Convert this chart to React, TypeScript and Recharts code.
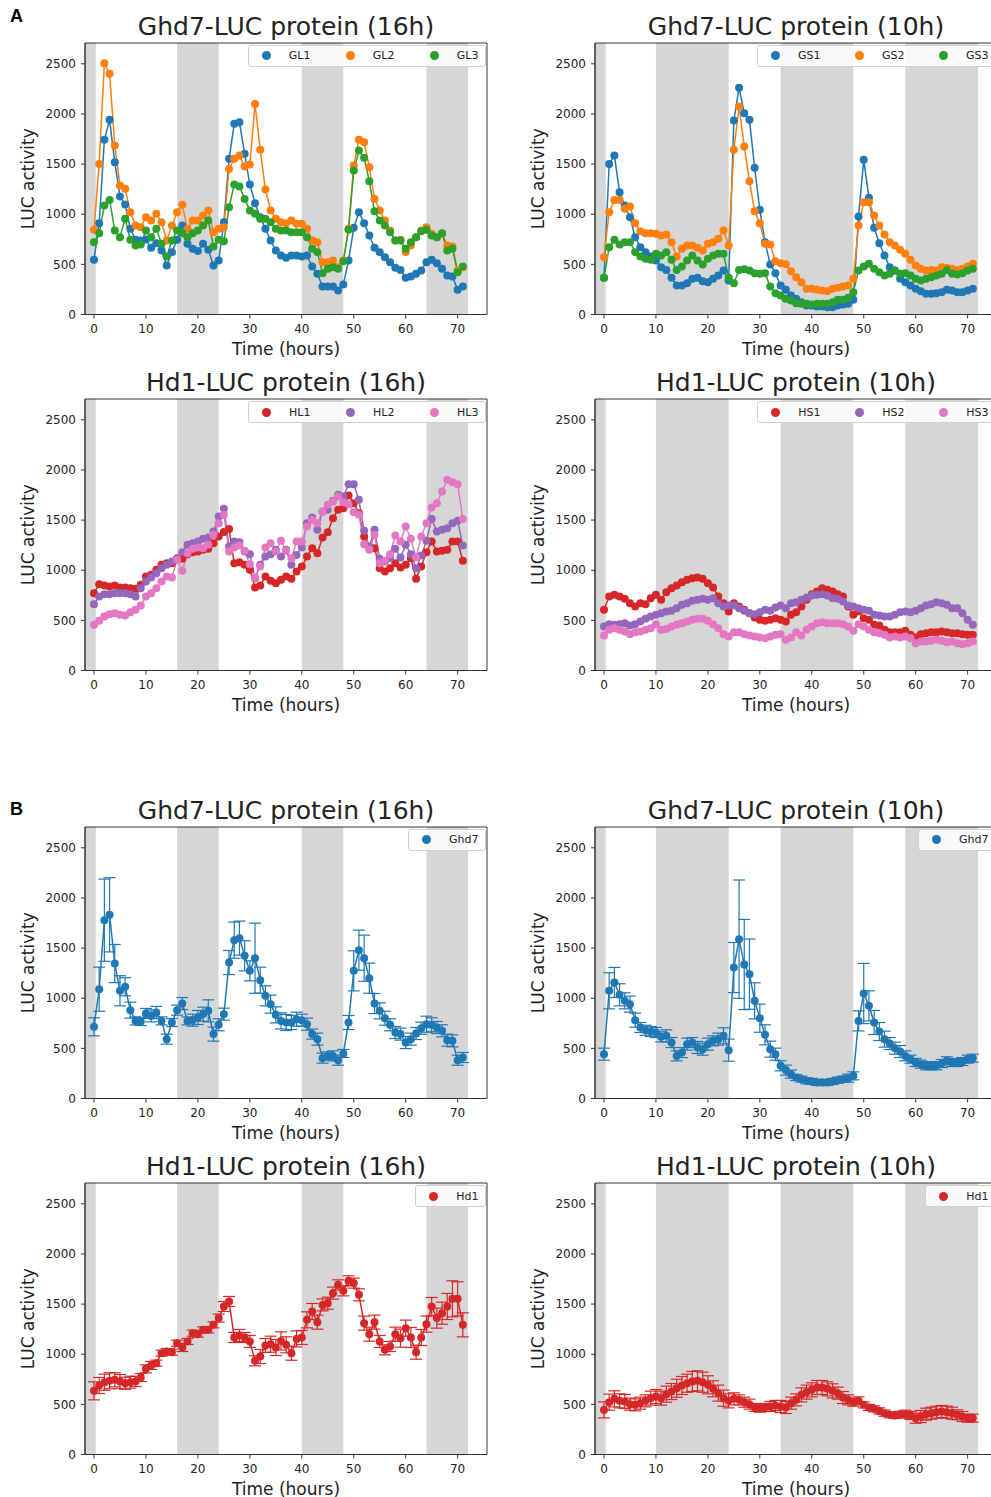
import React from 'react'
import { LineChart, Line, XAxis, YAxis, ReferenceArea, ErrorBar, Legend } from 'recharts'

// LUC activity time courses (hourly samples 0..71 h)
const hours = Array.from({ length: 72 }, (_, i) => i)
const xTicks = [0, 10, 20, 30, 40, 50, 60, 70]
const yTicks = [0, 500, 1000, 1500, 2000, 2500]

// dark periods (grey bands)
const longDark = [[-1.73, 0.35], [16, 24], [40, 48], [64, 72]]
const shortDark = [[-1.73, 0.35], [10, 24], [34, 48], [58, 72]]

const gl1 = [545, 911, 1742, 1941, 1519, 1177, 1097, 854, 745, 738, 748, 665, 711, 638, 489, 622, 745, 887, 705, 655, 632, 705, 645, 489, 538, 920, 1552, 1901, 1918, 1602, 1296, 1110, 971, 854, 738, 638, 588, 565, 588, 588, 578, 588, 479, 406, 279, 279, 279, 239, 299, 538, 864, 1020, 911, 788, 665, 622, 572, 522, 465, 445, 366, 379, 406, 439, 522, 545, 512, 455, 389, 379, 246, 279]
const gl2 = [844, 1502, 2506, 2400, 1685, 1286, 1253, 1020, 887, 871, 970, 937, 1004, 920, 738, 887, 1020, 1094, 854, 937, 937, 987, 1037, 821, 854, 870, 1452, 1552, 1585, 1476, 1496, 2100, 1642, 1246, 1037, 954, 920, 910, 937, 904, 904, 854, 738, 721, 522, 522, 538, 472, 538, 854, 1486, 1742, 1718, 1469, 1153, 1037, 937, 838, 738, 745, 622, 688, 771, 838, 871, 804, 771, 804, 688, 678, 439, 472]
const gl3 = [721, 811, 1087, 1143, 838, 771, 954, 745, 688, 698, 838, 771, 854, 705, 578, 738, 838, 811, 771, 811, 838, 887, 937, 678, 745, 731, 1070, 1296, 1276, 1153, 1037, 1004, 954, 954, 920, 854, 838, 838, 821, 821, 821, 771, 655, 622, 412, 455, 472, 455, 532, 844, 1436, 1635, 1562, 1330, 1030, 937, 887, 821, 738, 738, 655, 721, 771, 831, 844, 788, 771, 811, 638, 655, 422, 479]

const gs1 = [366, 1502, 1586, 1220, 1087, 971, 771, 671, 622, 578, 538, 472, 445, 366, 289, 289, 312, 356, 366, 332, 322, 356, 389, 439, 339, 1935, 2260, 2008, 1941, 1463, 1044, 721, 499, 412, 289, 246, 189, 156, 123, 90, 90, 80, 80, 73, 73, 90, 100, 106, 146, 977, 1542, 1163, 864, 711, 588, 472, 439, 356, 322, 289, 256, 233, 206, 206, 213, 223, 246, 239, 223, 223, 239, 256]
const gs2 = [572, 1020, 1143, 1143, 1054, 1077, 911, 831, 811, 811, 804, 788, 798, 721, 578, 655, 688, 688, 665, 638, 705, 721, 755, 838, 688, 1642, 2074, 1675, 1330, 1030, 911, 705, 698, 532, 512, 500, 432, 372, 322, 256, 256, 246, 239, 233, 256, 266, 279, 289, 356, 887, 1120, 1120, 987, 887, 798, 721, 688, 645, 605, 545, 489, 455, 439, 445, 439, 472, 465, 455, 445, 455, 479, 505]
const gs3 = [366, 671, 745, 698, 721, 721, 622, 578, 555, 545, 605, 588, 622, 545, 445, 479, 538, 588, 538, 499, 555, 588, 605, 605, 366, 312, 445, 452, 439, 412, 406, 412, 279, 213, 189, 156, 140, 113, 106, 106, 100, 106, 106, 106, 123, 146, 146, 166, 223, 439, 479, 505, 455, 422, 389, 406, 439, 406, 412, 389, 356, 339, 356, 372, 389, 406, 445, 406, 399, 412, 439, 455]

const hl1 = [771, 861, 848, 838, 848, 828, 828, 821, 814, 854, 937, 954, 1004, 1054, 1070, 1070, 1120, 1114, 1160, 1180, 1187, 1203, 1213, 1270, 1336, 1380, 1410, 1070, 1080, 1054, 1004, 828, 848, 937, 894, 871, 904, 937, 914, 987, 1037, 1136, 1220, 1170, 1326, 1379, 1519, 1602, 1619, 1745, 1669, 1569, 1336, 1227, 1220, 1020, 987, 1020, 1070, 1027, 1054, 1120, 914, 1037, 1180, 1286, 1187, 1193, 1203, 1286, 1286, 1094]
const hl2 = [661, 738, 761, 761, 771, 771, 771, 761, 738, 821, 887, 927, 971, 1020, 1054, 1087, 1114, 1180, 1253, 1270, 1286, 1313, 1326, 1386, 1536, 1612, 1236, 1286, 1280, 1187, 1160, 921, 1054, 1136, 1160, 1203, 1136, 1203, 1054, 1153, 1227, 1469, 1526, 1403, 1586, 1602, 1692, 1752, 1735, 1858, 1858, 1702, 1393, 1236, 1403, 1114, 1087, 1120, 1213, 1127, 1253, 1160, 1020, 1147, 1293, 1512, 1386, 1403, 1419, 1469, 1493, 1247]
const hl3 = [455, 495, 538, 562, 572, 555, 548, 582, 605, 648, 738, 771, 821, 887, 937, 927, 1104, 994, 1170, 1213, 1227, 1220, 1253, 1353, 1469, 1552, 1187, 1227, 1247, 1193, 1060, 927, 1037, 1227, 1270, 1187, 1293, 1193, 1120, 1286, 1286, 1436, 1502, 1469, 1586, 1652, 1685, 1735, 1679, 1659, 1579, 1552, 1260, 1203, 1353, 1070, 1094, 1160, 1346, 1286, 1436, 1313, 1127, 1336, 1469, 1625, 1669, 1785, 1901, 1878, 1858, 1512]

const hs1 = [605, 738, 755, 738, 715, 671, 638, 671, 661, 721, 755, 705, 781, 821, 848, 881, 904, 921, 927, 914, 871, 828, 738, 671, 588, 671, 638, 605, 572, 529, 505, 495, 505, 522, 505, 489, 555, 582, 638, 705, 761, 788, 821, 804, 788, 761, 738, 638, 555, 588, 522, 505, 455, 449, 406, 382, 382, 382, 396, 356, 329, 362, 372, 382, 382, 389, 382, 372, 372, 362, 356, 356]
const hs2 = [439, 462, 455, 462, 472, 449, 462, 489, 515, 538, 555, 572, 588, 595, 622, 655, 671, 695, 705, 715, 705, 721, 671, 638, 648, 648, 622, 595, 572, 562, 582, 605, 595, 628, 648, 622, 671, 681, 705, 728, 748, 755, 761, 748, 721, 715, 688, 648, 638, 622, 605, 595, 555, 548, 538, 538, 555, 582, 588, 582, 595, 622, 648, 661, 681, 671, 655, 622, 622, 572, 505, 455]
const hs3 = [349, 406, 422, 406, 389, 362, 382, 389, 406, 422, 462, 406, 415, 439, 455, 472, 489, 505, 515, 515, 495, 462, 422, 362, 339, 382, 382, 362, 349, 339, 329, 322, 339, 356, 362, 306, 329, 382, 349, 406, 439, 472, 482, 472, 472, 472, 462, 439, 396, 462, 439, 406, 382, 372, 356, 329, 339, 329, 339, 322, 272, 289, 289, 296, 306, 296, 282, 289, 272, 262, 272, 289]

// means with error bars (panel B)
const ghd7Long = [715, 1090, 1778, 1832, 1346, 1074, 1114, 881, 774, 768, 848, 824, 858, 774, 592, 758, 881, 947, 774, 781, 808, 841, 874, 642, 735, 841, 1356, 1579, 1599, 1423, 1273, 1399, 1180, 1024, 941, 834, 774, 758, 758, 791, 781, 741, 642, 592, 402, 425, 425, 382, 449, 758, 1273, 1479, 1399, 1200, 947, 874, 801, 735, 658, 642, 558, 592, 648, 701, 741, 735, 708, 675, 582, 575, 382, 409]
const ghd7LongErr = [90, 220, 410, 370, 190, 150, 90, 80, 40, 40, 50, 60, 60, 40, 50, 40, 50, 60, 40, 60, 70, 70, 110, 70, 60, 60, 120, 180, 170, 150, 100, 350, 130, 100, 90, 80, 80, 80, 70, 70, 60, 60, 50, 60, 50, 40, 50, 50, 40, 70, 200, 200, 230, 150, 100, 80, 70, 60, 60, 60, 60, 60, 60, 60, 80, 70, 60, 60, 60, 60, 50, 50]
const ghd7Short = [442, 1074, 1157, 1034, 974, 941, 781, 708, 681, 668, 658, 615, 625, 558, 425, 458, 542, 558, 509, 492, 542, 575, 592, 625, 482, 1306, 1589, 1336, 1240, 974, 801, 635, 492, 442, 326, 283, 243, 209, 193, 176, 170, 160, 160, 160, 170, 183, 193, 203, 226, 774, 1047, 924, 758, 668, 592, 548, 502, 469, 425, 392, 359, 342, 326, 326, 326, 349, 376, 359, 359, 369, 392, 402]
const ghd7ShortErr = [60, 180, 150, 110, 80, 80, 70, 50, 50, 50, 50, 50, 60, 50, 50, 50, 60, 50, 60, 60, 60, 50, 60, 80, 110, 250, 590, 450, 350, 180, 140, 100, 80, 60, 50, 50, 40, 30, 30, 30, 30, 30, 30, 30, 30, 30, 30, 40, 40, 100, 300, 150, 120, 90, 80, 60, 60, 60, 50, 40, 40, 40, 40, 40, 40, 40, 40, 40, 40, 40, 40, 40]
const hd1Long = [635, 688, 721, 735, 745, 728, 711, 721, 728, 768, 854, 888, 911, 1010, 1027, 1020, 1110, 1067, 1127, 1210, 1200, 1243, 1243, 1293, 1360, 1476, 1526, 1167, 1187, 1167, 1127, 934, 977, 1087, 1100, 1067, 1133, 1094, 1010, 1153, 1167, 1343, 1426, 1320, 1492, 1509, 1609, 1692, 1632, 1732, 1709, 1592, 1310, 1200, 1320, 1127, 1044, 1077, 1200, 1160, 1260, 1167, 1020, 1167, 1300, 1476, 1360, 1409, 1476, 1552, 1552, 1293]
const hd1LongErr = [90, 80, 80, 80, 70, 70, 60, 60, 50, 40, 40, 40, 30, 30, 30, 30, 30, 40, 30, 30, 30, 30, 30, 30, 40, 50, 50, 50, 60, 50, 60, 50, 70, 70, 80, 80, 90, 80, 70, 80, 70, 80, 80, 70, 60, 60, 60, 50, 50, 50, 50, 60, 70, 70, 70, 60, 50, 50, 70, 90, 80, 100, 70, 80, 80, 90, 100, 110, 130, 180, 170, 120]
const hd1Short = [445, 522, 555, 535, 529, 502, 495, 512, 535, 562, 578, 562, 602, 628, 661, 688, 711, 728, 735, 721, 695, 655, 612, 562, 535, 555, 545, 522, 502, 469, 462, 469, 479, 489, 479, 469, 512, 545, 595, 622, 645, 668, 668, 655, 635, 612, 568, 545, 522, 535, 495, 469, 455, 435, 412, 396, 389, 402, 402, 389, 362, 379, 402, 412, 422, 429, 422, 412, 396, 379, 362, 362]
const hd1ShortErr = [80, 80, 80, 70, 70, 60, 60, 60, 60, 70, 70, 70, 80, 80, 90, 90, 90, 100, 100, 100, 90, 80, 80, 80, 70, 60, 50, 50, 50, 40, 40, 40, 50, 50, 60, 60, 60, 60, 70, 70, 70, 70, 70, 70, 70, 60, 60, 50, 40, 40, 30, 30, 30, 30, 30, 30, 30, 30, 40, 40, 50, 60, 60, 60, 60, 60, 60, 60, 50, 50, 40, 40]

const FONT = '"DejaVu Sans", sans-serif'
const TXT = '#222'
const BLUE = '#1f77b4'
const ORANGE = '#ff7f0e'
const GREEN = '#2ca02c'
const RED = '#d62728'
const PURPLE = '#9467bd'
const PINK = '#e377c2'

// plot-area geometry (px)
const PW = 402
const PH = 271.5
const YW = 70
const XH = 46
const X_MIN = -1.73
const X_MAX = X_MIN + PW / 5.195
const Y_MAX = PH / 0.10028

type Series = { name: string; color: string; values: number[]; err?: number[] }
type PanelDef = { title: string; left: number; top: number; bands: number[][]; series: Series[] }

const panels: PanelDef[] = [
  { title: 'Ghd7-LUC protein (16h)', left: 85, top: 42.7, bands: longDark, series: [
    { name: 'GL1', color: BLUE, values: gl1 },
    { name: 'GL2', color: ORANGE, values: gl2 },
    { name: 'GL3', color: GREEN, values: gl3 },
  ] },
  { title: 'Ghd7-LUC protein (10h)', left: 595, top: 42.7, bands: shortDark, series: [
    { name: 'GS1', color: BLUE, values: gs1 },
    { name: 'GS2', color: ORANGE, values: gs2 },
    { name: 'GS3', color: GREEN, values: gs3 },
  ] },
  { title: 'Hd1-LUC protein (16h)', left: 85, top: 399, bands: longDark, series: [
    { name: 'HL1', color: RED, values: hl1 },
    { name: 'HL2', color: PURPLE, values: hl2 },
    { name: 'HL3', color: PINK, values: hl3 },
  ] },
  { title: 'Hd1-LUC protein (10h)', left: 595, top: 399, bands: shortDark, series: [
    { name: 'HS1', color: RED, values: hs1 },
    { name: 'HS2', color: PURPLE, values: hs2 },
    { name: 'HS3', color: PINK, values: hs3 },
  ] },
  { title: 'Ghd7-LUC protein (16h)', left: 85, top: 826.7, bands: longDark, series: [
    { name: 'Ghd7', color: BLUE, values: ghd7Long, err: ghd7LongErr },
  ] },
  { title: 'Ghd7-LUC protein (10h)', left: 595, top: 826.7, bands: shortDark, series: [
    { name: 'Ghd7', color: BLUE, values: ghd7Short, err: ghd7ShortErr },
  ] },
  { title: 'Hd1-LUC protein (16h)', left: 85, top: 1183, bands: longDark, series: [
    { name: 'Hd1', color: RED, values: hd1Long, err: hd1LongErr },
  ] },
  { title: 'Hd1-LUC protein (10h)', left: 595, top: 1183, bands: shortDark, series: [
    { name: 'Hd1', color: RED, values: hd1Short, err: hd1ShortErr },
  ] },
]

function MplLegend({ items }: { items: Series[] }) {
  return (
    <div
      style={{
        display: 'flex',
        alignItems: 'center',
        height: 20,
        padding: '0 6px 0 13px',
        background: 'rgba(255,255,255,0.85)',
        border: '1px solid #d0d0d0',
        borderRadius: 3,
        fontFamily: FONT,
        fontSize: 11,
        color: TXT,
        whiteSpace: 'nowrap',
      }}
    >
      {items.map((it, i) => (
        <div
          key={it.name}
          style={{ display: 'flex', alignItems: 'center', width: i < items.length - 1 ? 84 : 'auto' }}
        >
          <svg width={9} height={9} style={{ marginRight: 18 }}>
            <circle cx={4.5} cy={4.5} r={4.5} fill={it.color} />
          </svg>
          <span>{it.name}</span>
        </div>
      ))}
    </div>
  )
}

function Panel({ p }: { p: PanelDef }) {
  const rows = hours.map((t, i) => {
    const row: Record<string, number> = { t }
    p.series.forEach((s, k) => {
      row['s' + k] = s.values[i]
      if (s.err) row['e' + k] = s.err[i]
    })
    return row
  })

  return (
    <>
      <div
        style={{
          position: 'absolute',
          left: p.left - 10,
          width: PW + 20,
          top: p.top - 29,
          textAlign: 'center',
          fontFamily: FONT,
          fontSize: 25,
          lineHeight: '25px',
          color: TXT,
          whiteSpace: 'nowrap',
        }}
      >
        {p.title}
      </div>
      <div style={{ position: 'absolute', left: p.left - YW, top: p.top - 2 }}>
        <LineChart
          width={YW + PW + 2}
          height={PH + XH + 2}
          data={rows}
          margin={{ top: 2, right: 2, bottom: 0, left: 0 }}
        >
          {p.bands.map(([a, b]) => (
            <ReferenceArea key={a} x1={a} x2={b} y1={0} y2={Y_MAX} fill="#d6d6d6" fillOpacity={1} stroke="none" />
          ))}
          <XAxis
            dataKey="t"
            type="number"
            domain={[X_MIN, X_MAX]}
            ticks={xTicks}
            allowDataOverflow
            height={XH}
            tickSize={4}
            tickMargin={6}
            stroke="#333"
            tick={{ fontSize: 12, fill: TXT, fontFamily: FONT }}
            label={{
              content: ({ viewBox }: any) => (
                <text
                  x={viewBox.x + viewBox.width / 2}
                  y={viewBox.y + 40}
                  textAnchor="middle"
                  fontSize={17}
                  fill={TXT}
                  fontFamily={FONT}
                >
                  Time (hours)
                </text>
              ),
            }}
          />
          <YAxis
            type="number"
            domain={[0, Y_MAX]}
            ticks={yTicks}
            allowDataOverflow
            width={YW}
            tickSize={4}
            tickMargin={5}
            stroke="#333"
            tick={{ fontSize: 12, fill: TXT, fontFamily: FONT }}
            label={{
              content: ({ viewBox }: any) => {
                const x = viewBox.x + 13
                const y = viewBox.y + viewBox.height / 2
                return (
                  <text
                    x={x}
                    y={y}
                    transform={`rotate(-90, ${x}, ${y})`}
                    textAnchor="middle"
                    dominantBaseline="central"
                    fontSize={17}
                    fill={TXT}
                    fontFamily={FONT}
                  >
                    LUC activity
                  </text>
                )
              },
            }}
          />
          {p.series.map((s, k) => (
            <Line
              key={s.name}
              dataKey={'s' + k}
              name={s.name}
              stroke={s.color}
              strokeWidth={1.5}
              dot={{ r: 4, fill: s.color, stroke: s.color, strokeWidth: 0 }}
              activeDot={false}
              isAnimationActive={false}
            >
              {s.err && (
                <ErrorBar
                  dataKey={'e' + k}
                  width={6}
                  stroke={s.color}
                  strokeWidth={1.2}
                  direction="y"
                  isAnimationActive={false}
                />
              )}
            </Line>
          ))}
          <ReferenceArea x1={X_MIN} x2={X_MAX} y1={0} y2={Y_MAX} fill="none" stroke="#333" strokeWidth={1} />
          <Legend
            layout="horizontal"
            verticalAlign="middle"
            align="center"
            wrapperStyle={{ top: 4, right: 3.5, left: 'auto', width: 'auto' }}
            content={() => <MplLegend items={p.series} />}
          />
        </LineChart>
      </div>
    </>
  )
}

export default function App() {
  return (
    <div
      style={{
        position: 'fixed',
        left: 0,
        top: 0,
        width: 991,
        height: 1497,
        overflow: 'hidden',
        background: '#fff',
      }}
    >
      <div style={{ position: 'absolute', left: 10, top: 6, fontFamily: '"Liberation Sans", Arial, sans-serif', fontWeight: 700, fontSize: 18 }}>
        A
      </div>
      <div style={{ position: 'absolute', left: 10, top: 799, fontFamily: '"Liberation Sans", Arial, sans-serif', fontWeight: 700, fontSize: 18 }}>
        B
      </div>
      {panels.map((p, i) => (
        <Panel key={i} p={p} />
      ))}
    </div>
  )
}
